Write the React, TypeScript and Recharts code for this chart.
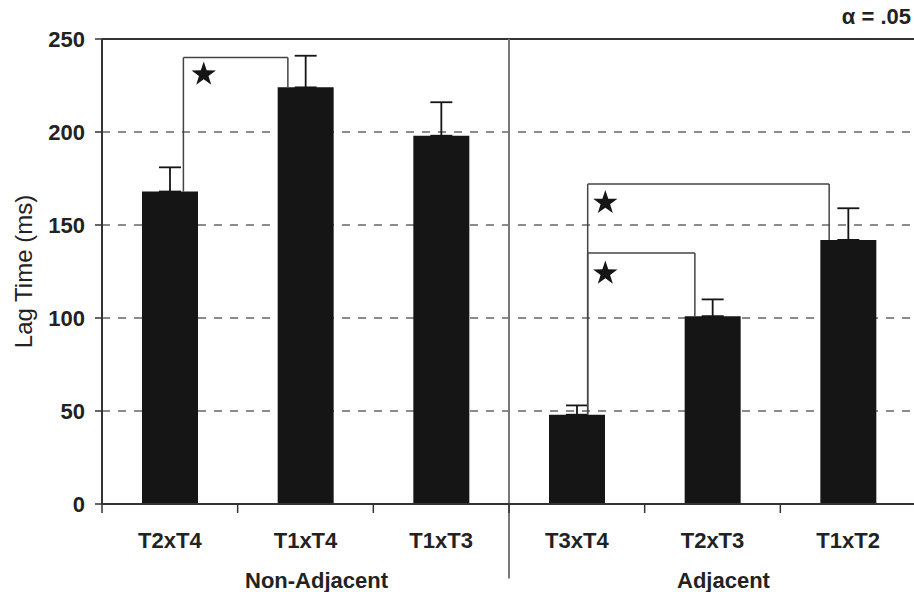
import { ComposedChart, Bar, XAxis, YAxis, CartesianGrid, ErrorBar, ReferenceLine, ReferenceDot } from 'recharts';

const categories = ['T2xT4', 'T1xT4', 'T1xT3', 'T3xT4', 'T2xT3', 'T1xT2'];
const lagTime = [168, 224, 198, 48, 101, 142];
const lagError = [13, 17, 18, 5, 9, 17];
const groupNames = ['Non-Adjacent', 'Adjacent'];
const groupCenters = [1, 4];
const groupSplit = 2.5;
const yTicks = [0, 50, 100, 150, 200, 250];

// significance brackets: bars they join, x of the two legs, height of the bar across
const bracketFrom = [0, 3, 3];
const bracketTo = [1, 4, 5];
const bracketX1 = [0.1, 3.08, 3.08];
const bracketX2 = [0.87, 3.87, 4.86];
const bracketTop = [240, 135, 172];
const starX = [0.25, 3.21, 3.21];
const starY = [231, 124, 162];

const FONT = '"Liberation Sans", Arial, Helvetica, sans-serif';
const INK = '#151515';

// only the upper half of each error bar is shown
const data = categories.map((name, i) => ({ idx: i, name, lag: lagTime[i], err: [0, lagError[i]] }));

// ticks at every category centre (labels) and boundary (tick marks)
const xTicks: number[] = [];
for (let i = -0.5; i <= categories.length - 0.5; i += 0.5) xTicks.push(i);

const CategoryTick = (props: any) => {
    const { x, y, payload } = props;
    const v = payload.value;
    if (!Number.isInteger(v)) {
        return <line x1={x} x2={x} y1={y} y2={y + 9} stroke="#333" strokeWidth={1.5} />;
    }
    const g = groupCenters.indexOf(v);
    return (
        <g>
            <text x={x} y={y + 44} textAnchor="middle" fontFamily={FONT} fontWeight="bold" fontSize={22} fill="#222">
                {categories[v]}
            </text>
            {g >= 0 && (
                <text x={x + 11} y={y + 84} textAnchor="middle" fontFamily={FONT} fontWeight="bold" fontSize={22} fill="#222">
                    {groupNames[g]}
                </text>
            )}
        </g>
    );
};

const Star = (props: any) => {
    const { cx, cy } = props;
    const pts: string[] = [];
    for (let k = 0; k < 10; k++) {
        const r = k % 2 === 0 ? 12.8 : 5;
        const a = -Math.PI / 2 + (k * Math.PI) / 5;
        pts.push(`${cx + r * Math.cos(a)},${cy + r * Math.sin(a)}`);
    }
    return <polygon points={pts.join(' ')} fill={INK} />;
};

export default function App() {
    const line = { stroke: '#444', strokeWidth: 1.5 };
    return (
        <div style={{ position: 'absolute', left: 0, top: 0, width: 914, height: 592, overflow: 'hidden', background: '#fff' }}>
            <div style={{ position: 'absolute', right: 3, top: 4, fontFamily: FONT, fontWeight: 'bold', fontSize: 22, color: '#222' }}>
                α = .05
            </div>
            <ComposedChart width={918} height={592} data={data} margin={{ top: 39, right: 2, left: 0, bottom: 0 }}>
                <CartesianGrid vertical={false} stroke="#666" strokeWidth={1.5} strokeDasharray="8 8" />
                <XAxis
                    dataKey="idx"
                    type="number"
                    domain={[-0.5, categories.length - 0.5]}
                    ticks={xTicks}
                    interval={0}
                    allowDataOverflow
                    tickLine={false}
                    tickSize={0}
                    tickMargin={0}
                    tick={CategoryTick}
                    axisLine={{ stroke: '#333', strokeWidth: 2 }}
                    height={88}
                />
                <YAxis
                    domain={[0, 250]}
                    ticks={yTicks}
                    width={102}
                    tickSize={7}
                    tickMargin={10}
                    tickLine={{ stroke: '#333', strokeWidth: 1.5 }}
                    axisLine={{ stroke: '#333', strokeWidth: 2 }}
                    tick={{ fontFamily: FONT, fontWeight: 'bold', fontSize: 22, fill: '#222' }}
                    label={{
                        value: 'Lag Time (ms)',
                        angle: -90,
                        position: 'insideLeft',
                        offset: 23,
                        style: { textAnchor: 'middle', fontFamily: FONT, fontSize: 24, fill: '#222' },
                    }}
                />
                <ReferenceLine y={250} stroke="#333" strokeWidth={2} />
                <ReferenceLine
                    segment={[{ x: groupSplit, y: 250 }, { x: groupSplit, y: -40 }]}
                    ifOverflow="visible"
                    stroke="#777"
                    strokeWidth={2}
                />
                <Bar dataKey="lag" fill={INK} barSize={56} isAnimationActive={false}>
                    <ErrorBar dataKey="err" width={11} stroke={INK} strokeWidth={1.8} direction="y" />
                </Bar>
                {bracketTop.map((top, i) => (
                    <ReferenceLine
                        key={`l${i}`}
                        segment={[{ x: bracketX1[i], y: lagTime[bracketFrom[i]] }, { x: bracketX1[i], y: top }]}
                        {...line}
                    />
                ))}
                {bracketTop.map((top, i) => (
                    <ReferenceLine
                        key={`t${i}`}
                        segment={[{ x: bracketX1[i], y: top }, { x: bracketX2[i], y: top }]}
                        {...line}
                    />
                ))}
                {bracketTop.map((top, i) => (
                    <ReferenceLine
                        key={`r${i}`}
                        segment={[{ x: bracketX2[i], y: top }, { x: bracketX2[i], y: lagTime[bracketTo[i]] }]}
                        {...line}
                    />
                ))}
                {starX.map((sx, i) => (
                    <ReferenceDot key={`s${i}`} x={sx} y={starY[i]} r={12} shape={Star} />
                ))}
            </ComposedChart>
        </div>
    );
}
